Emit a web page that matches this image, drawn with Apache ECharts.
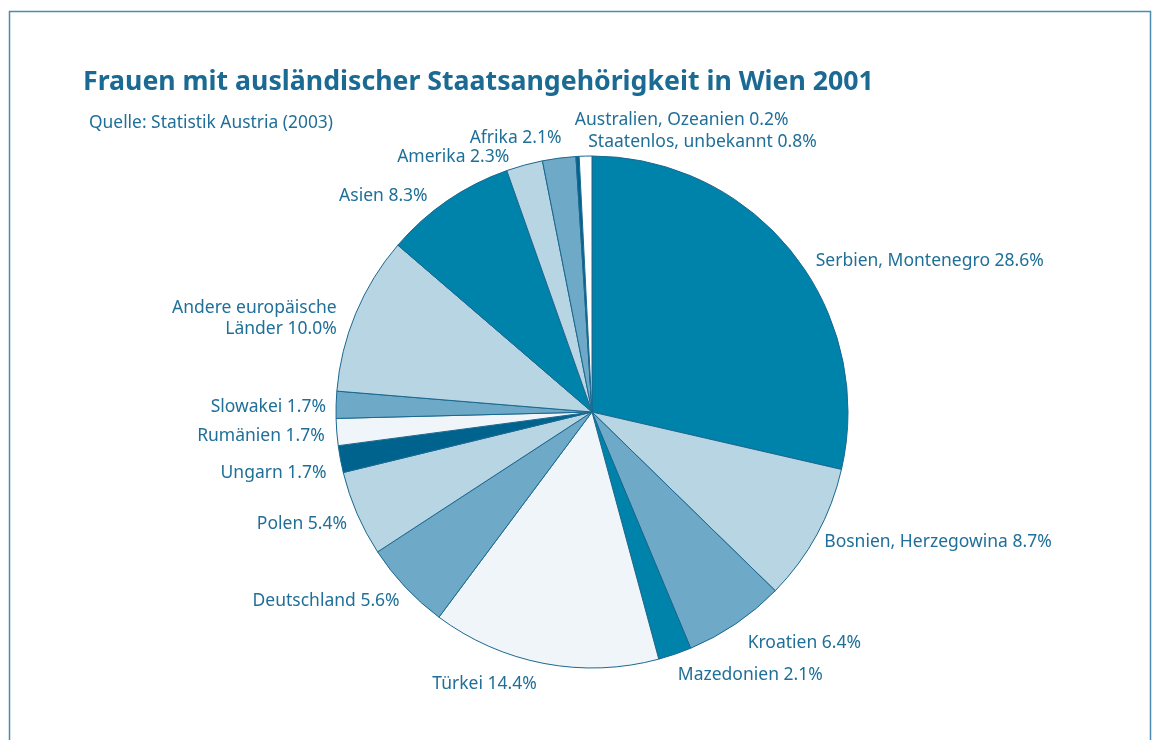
<!DOCTYPE html>
<html>
<head>
<meta charset="utf-8">
<title>Frauen mit ausländischer Staatsangehörigkeit in Wien 2001</title>
<script src="https://cdn.jsdelivr.net/npm/echarts@6/dist/echarts.min.js"></script>
<style>
  html, body { margin: 0; padding: 0; background: #fff; }
  #main { width: 1157px; height: 740px; }
</style>
</head>
<body>
<div id="main"></div>
<script>
// Daten
var laender = [
  "Serbien, Montenegro", "Bosnien, Herzegowina", "Kroatien", "Mazedonien",
  "Türkei", "Deutschland", "Polen", "Ungarn", "Rumänien", "Slowakei",
  "Andere europäische\nLänder", "Asien", "Amerika", "Afrika",
  "Australien, Ozeanien", "Staatenlos, unbekannt"
];
var anteile = [28.6, 8.7, 6.4, 2.1, 14.4, 5.6, 5.4, 1.7, 1.7, 1.7, 10.0, 8.3, 2.3, 2.1, 0.2, 0.8];
var farben = [
  "#0083aa", "#b8d5e3", "#6eaac8", "#0083aa", "#eff5f9", "#6eaac8", "#b8d5e3", "#00638e",
  "#eff5f9", "#6eaac8", "#b8d5e3", "#0083aa", "#b8d5e3", "#6eaac8", "#00638e", "#ffffff"
];

var textFarbe = "#1f6f98";

// kleine Korrekturen der Beschriftung (dx, dy, Ausrichtung)
var labelKorrektur = {
  0: { dx: 9, dy: 16 },
  1: { dx: -8, dy: 2 },
  2: { dx: 0, dy: 9 },
  3: { dx: -6, dy: 9 },
  4: { dx: 0, dy: 9 },
  5: { dx: 8, dy: 6 },
  6: { dx: 6, dy: 6 },
  7: { dx: 3, dy: 12 },
  8: { dx: 5, dy: 3 },
  9: { dx: 7, dy: 3 },
  10: { dx: -3, dy: 10 },
  11: { dx: -8, dy: 5 },
  12: { dx: -7, dy: 4 },
  13: { dx: 9, dy: -8 },
  14: { dx: 3, dy: -24, align: "left" },
  15: { dx: 8, dy: -2, align: "left" }
};

var pieData = [];
for (var i = 0; i < laender.length; i++) {
  pieData.push({ name: laender[i], value: anteile[i], itemStyle: { color: farben[i] } });
}

var myChart = echarts.init(document.getElementById("main"));
var option = {
  backgroundColor: "#ffffff",
  animation: false,
  title: [
    {
      text: "Frauen mit ausländischer Staatsangehörigkeit in Wien 2001",
      left: 78,
      top: 64,
      textStyle: { fontFamily: "Noto Sans", fontSize: 26.7, fontWeight: "bold", color: "#1a6a93" }
    },
    {
      text: "Quelle: Statistik Austria (2003)",
      left: 84,
      top: 110,
      textStyle: { fontFamily: "Noto Sans", fontSize: 17.4, fontWeight: "normal", color: textFarbe }
    }
  ],
  graphic: [
    {
      type: "rect",
      shape: { x: 9.5, y: 11.5, width: 1141, height: 760 },
      style: { fill: "none", stroke: "#4a8ab0", lineWidth: 1.5 }
    }
  ],
  series: [
    {
      type: "pie",
      center: [592, 412],
      radius: 256,
      startAngle: 90,
      clockwise: true,
      avoidLabelOverlap: false,
      itemStyle: { borderColor: "#1b6890", borderWidth: 1 },
      label: {
        show: true,
        position: "outside",
        fontFamily: "Noto Sans",
        fontSize: 17.5,
        color: textFarbe,
        lineHeight: 21,
        formatter: function(p) {
          return p.name + " " + p.value.toFixed(1) + "%";
        }
      },
      labelLine: { show: false, length: 12, length2: 0 },
      labelLayout: function(params) {
        var k = labelKorrektur[params.dataIndex] || {};
        var res = { dx: k.dx || 0, dy: k.dy || 0 };
        if (k.align) {
          res.align = k.align;
        }
        return res;
      },
      emphasis: { disabled: true },
      data: pieData
    }
  ]
};
myChart.setOption(option);
</script>
</body>
</html>
